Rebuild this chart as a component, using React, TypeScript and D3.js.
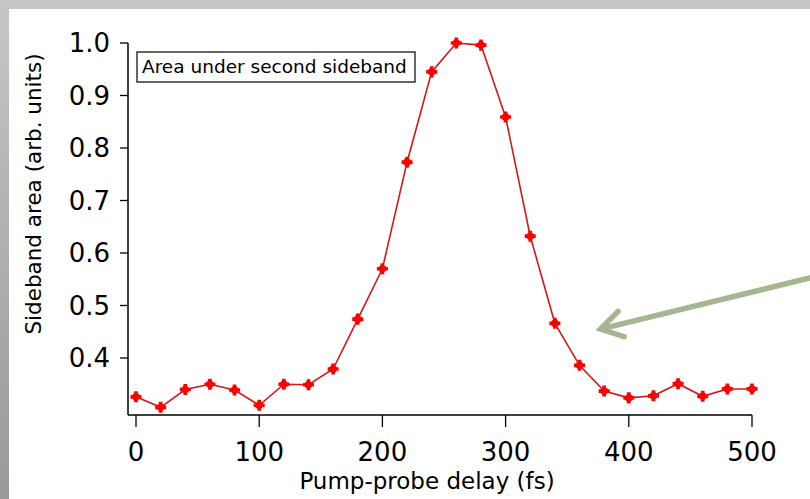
import React from "react";
import * as d3 from "d3";

const delays = [0, 20, 40, 60, 80, 100, 120, 140, 160, 180, 200, 220, 240, 260, 280, 300, 320, 340, 360, 380, 400, 420, 440, 460, 480, 500];
const areas = [0.326, 0.306, 0.340, 0.350, 0.339, 0.310, 0.350, 0.349, 0.379, 0.474, 0.570, 0.773, 0.945, 1.0, 0.996, 0.859, 0.632, 0.466, 0.386, 0.337, 0.324, 0.328, 0.351, 0.327, 0.341, 0.341];
const xTicks = [0, 100, 200, 300, 400, 500];
const yTicks = [0.4, 0.5, 0.6, 0.7, 0.8, 0.9, 1.0];
const legendText = "Area under second sideband";
const xTitle = "Pump-probe delay (fs)";
const yTitle = "Sideband area (arb. units)";
// annotation arrow in data units: [tail, tip]
const arrowDelay = [548, 377];
const arrowArea = [0.553, 0.455];

const W = 810;
const H = 499;
const FONT = "'DejaVu Sans', sans-serif";

export default function App() {
  const x = d3.scaleLinear().domain([0, 500]).range([136, 752]);
  const y = d3.scaleLinear().domain([0.2914, 1.0]).range([415, 43]);
  const axisLeft = 128;
  const axisBottom = y(0.2914);

  const pts = delays.map((d, i) => [x(d), y(areas[i])] as [number, number]);
  const line = d3.line()(pts) || "";
  const cross = d3.symbol().type(d3.symbolCross).size(68)() || "";

  const tail: [number, number] = [x(arrowDelay[0]), y(arrowArea[0])];
  const tip: [number, number] = [x(arrowDelay[1]), y(arrowArea[1])];
  const ang = Math.atan2(tail[1] - tip[1], tail[0] - tip[0]);
  const headLen = 25;
  const spread = 0.55;
  const h1: [number, number] = [tip[0] + headLen * Math.cos(ang + spread), tip[1] + headLen * Math.sin(ang + spread)];
  const h2: [number, number] = [tip[0] + headLen * Math.cos(ang - spread), tip[1] + headLen * Math.sin(ang - spread)];

  return (
    <svg width={W} height={H} style={{ position: "absolute", left: 0, top: 0 }} fontFamily={FONT}>
      <defs>
        <linearGradient id="bg" x1="0" y1="0" x2="0" y2="1">
          <stop offset="0" stopColor="#c6c6c6" />
          <stop offset="1" stopColor="#999999" />
        </linearGradient>
      </defs>
      <rect x={0} y={0} width={W} height={H} fill="url(#bg)" />
      <rect x={9} y={9} width={W - 9} height={H - 9} fill="#ffffff" />

      {/* axes */}
      <line x1={axisLeft} x2={axisLeft} y1={y(1.0)} y2={axisBottom} stroke="#000" strokeWidth={1.5} />
      <line x1={axisLeft} x2={x(500)} y1={axisBottom} y2={axisBottom} stroke="#000" strokeWidth={1.5} />
      {yTicks.map((t) => (
        <g key={"y" + t}>
          <line x1={axisLeft - 8} x2={axisLeft} y1={y(t)} y2={y(t)} stroke="#000" strokeWidth={1.3} />
          <text x={110} y={y(t)} dy="0.36em" textAnchor="end" fontSize={26} fill="#000">
            {t.toFixed(1)}
          </text>
        </g>
      ))}
      {xTicks.map((t) => (
        <g key={"x" + t}>
          <line x1={x(t)} x2={x(t)} y1={axisBottom} y2={axisBottom + 12} stroke="#000" strokeWidth={1.3} />
          <text x={x(t)} y={461} textAnchor="middle" fontSize={26} fill="#000">
            {t}
          </text>
        </g>
      ))}
      <text x={427} y={489} textAnchor="middle" fontSize={23} fill="#000">
        {xTitle}
      </text>
      <text transform={`translate(41,194) rotate(-90)`} textAnchor="middle" fontSize={21.5} fill="#000">
        {yTitle}
      </text>

      {/* legend */}
      <rect x={137} y={52} width={278} height={30} fill="#fff" stroke="#000" strokeWidth={1.2} />
      <text x={142} y={73} fontSize={18.5} fill="#000">
        {legendText}
      </text>

      {/* data */}
      <path d={line} fill="none" stroke="#d01818" strokeWidth={1.6} />
      {pts.map((p, i) => (
        <g key={"m" + i} transform={`translate(${p[0]},${p[1]})`}>
          <path d={cross} fill="#ff0000" />
          <circle r={3.8} fill="#ff0000" />
        </g>
      ))}

      {/* annotation arrow */}
      <line x1={tail[0]} y1={tail[1]} x2={tip[0]} y2={tip[1]} stroke="#a6b690" strokeWidth={5.5} />
      <polyline
        points={`${h1[0]},${h1[1]} ${tip[0]},${tip[1]} ${h2[0]},${h2[1]}`}
        fill="none"
        stroke="#a6b690"
        strokeWidth={5.5}
        strokeLinecap="round"
        strokeLinejoin="miter"
      />
    </svg>
  );
}
